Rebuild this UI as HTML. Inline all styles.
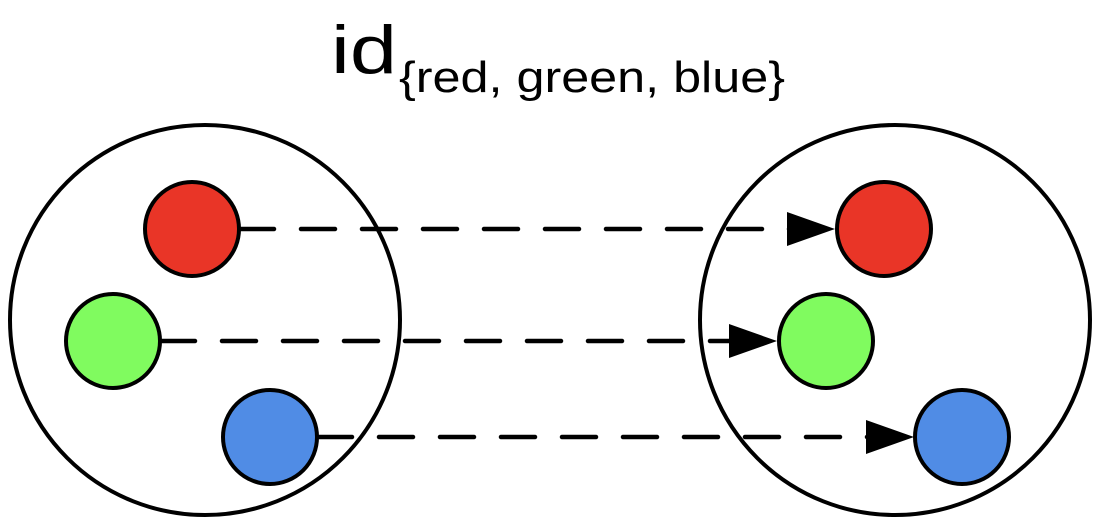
<!DOCTYPE html>
<html><head><style>html,body{margin:0;padding:0;background:#fff;width:1098px;height:522px;overflow:hidden}</style></head>
<body>
<svg width="1098" height="522" viewBox="0 0 1098 522" xmlns="http://www.w3.org/2000/svg">
<text x="331" y="73" font-family="Liberation Sans, sans-serif" font-size="68" textLength="66" lengthAdjust="spacingAndGlyphs" fill="#000">id</text>
<text x="399" y="92" font-family="Liberation Sans, sans-serif" font-size="44" textLength="386" lengthAdjust="spacingAndGlyphs" fill="#000">{red, green, blue}</text>
<circle cx="205" cy="320" r="195" fill="none" stroke="#000" stroke-width="4"/>
<circle cx="895" cy="320" r="195" fill="none" stroke="#000" stroke-width="4"/>
<g stroke="#000" stroke-width="4.5" stroke-linecap="round" stroke-dasharray="34 27">
<line x1="240" y1="229" x2="790" y2="229"/>
<line x1="161" y1="341" x2="732" y2="341"/>
<line x1="318" y1="437" x2="870" y2="437"/>
</g>
<g fill="#000">
<polygon points="787,212 835,229 787,246"/>
<polygon points="729,324 777,341 729,358"/>
<polygon points="866,420 914,437 866,454"/>
</g>
<g stroke="#000" stroke-width="4">
<circle cx="192" cy="229" r="47" fill="#e93527"/>
<circle cx="113" cy="341" r="47" fill="#80fb5f"/>
<circle cx="270" cy="437" r="47" fill="#508ce5"/>
<circle cx="884" cy="229" r="47" fill="#e93527"/>
<circle cx="826" cy="341" r="47" fill="#80fb5f"/>
<circle cx="962" cy="437" r="47" fill="#508ce5"/>
</g>
</svg>
</body></html>
